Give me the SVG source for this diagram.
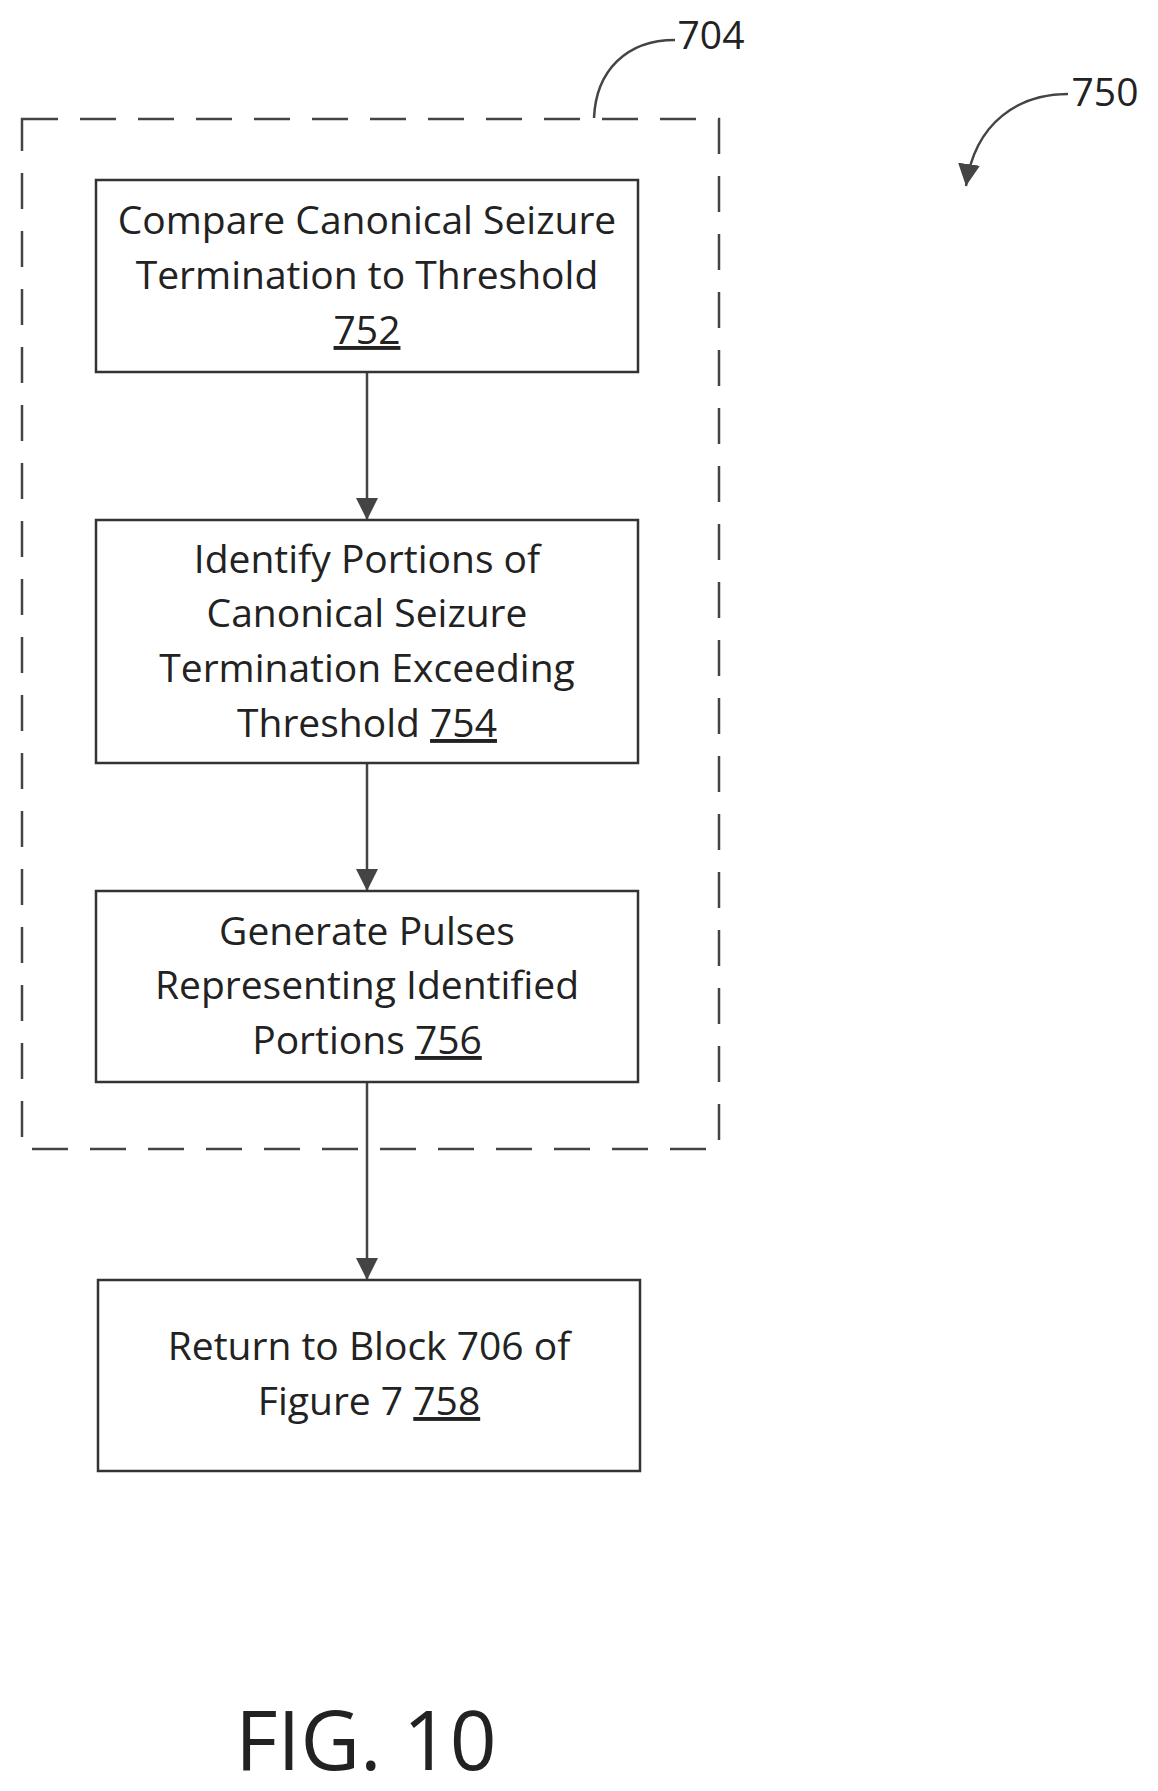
<svg xmlns="http://www.w3.org/2000/svg" width="1158" height="1791" viewBox="0 0 1158 1791">
<style>
.b{fill:#fff;stroke:#333;stroke-width:2.5}
.t{font-family:"Open Sans","Liberation Sans",sans-serif;font-size:39px;fill:#222;text-anchor:middle}
.c{stroke:#444;stroke-width:2.5;fill:none}
.u{text-decoration:underline}
</style>
<defs><marker id="A" viewBox="0 0 10 10" refX="10" refY="5" markerWidth="22" markerHeight="22" orient="auto" markerUnits="userSpaceOnUse"><path d="M0,0L10,5L0,10z" fill="#444"/></marker></defs>
<rect width="1158" height="1791" fill="#fff"/>
<rect x="22" y="119" width="697" height="1030" fill="none" stroke="#444" stroke-width="2.5" stroke-dasharray="36,22"/>
<g id="connectors">
<path class="c" d="M367,372V520" marker-end="url(#A)"/>
<path class="c" d="M367,763V891" marker-end="url(#A)"/>
<path class="c" d="M367,1082V1280" marker-end="url(#A)"/>
<path class="c" d="M594,118C596,71 626,40 675,40"/>
<path class="c" d="M1068,94C1020,94 975,121 966,186" marker-end="url(#A)"/>
</g>
<g id="n752"><rect class="b" x="96" y="180" width="542" height="192"/>
<text class="t" x="367" y="234">Compare Canonical Seizure</text>
<text class="t" x="367" y="289">Termination to Threshold</text>
<text class="t u" x="367" y="344">752</text></g>
<g id="n754"><rect class="b" x="96" y="520" width="542" height="243"/>
<text class="t" x="367" y="573">Identify Portions of</text>
<text class="t" x="367" y="627">Canonical Seizure</text>
<text class="t" x="367" y="682">Termination Exceeding</text>
<text class="t" x="367" y="737">Threshold  <tspan class="u">754</tspan></text></g>
<g id="n756"><rect class="b" x="96" y="891" width="542" height="191"/>
<text class="t" x="367" y="945">Generate Pulses</text>
<text class="t" x="367" y="999">Representing Identified</text>
<text class="t" x="367" y="1054">Portions <tspan class="u">756</tspan></text></g>
<g id="n758"><rect class="b" x="98" y="1280" width="542" height="191"/>
<text class="t" x="369" y="1360">Return to Block 706 of</text>
<text class="t" x="369" y="1415">Figure 7 <tspan class="u">758</tspan></text></g>
<text class="t" x="711" y="49">704</text>
<text class="t" x="1105" y="106">750</text>
<text class="t" x="366" y="1770" style="font-size:82px">FIG. 10</text>
</svg>
